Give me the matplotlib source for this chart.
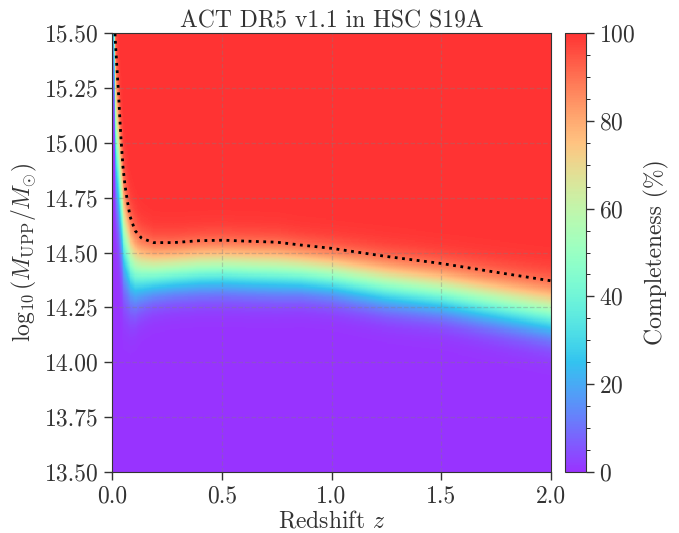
import numpy as np
import matplotlib
matplotlib.use('Agg')
import matplotlib.pyplot as plt
from matplotlib.ticker import MultipleLocator
from math import erf, sqrt

plt.rcParams['font.family'] = 'cmr10'
plt.rcParams['mathtext.fontset'] = 'cm'
plt.rcParams['axes.formatter.use_mathtext'] = True

# 90% completeness mass limit
z_nodes = [0.000, 0.005, 0.010, 0.014, 0.020, 0.025, 0.030, 0.035, 0.040, 0.050,
           0.060, 0.070, 0.082, 0.105, 0.135, 0.190, 0.280, 0.400, 0.510, 0.630,
           0.750, 0.860, 1.000, 1.250, 1.500, 1.750, 2.000]
m90_nodes = [16.40, 16.10, 15.85, 15.48, 15.38, 15.30, 15.22, 15.12, 15.03, 14.89,
             14.80, 14.735, 14.665, 14.60, 14.565, 14.545, 14.545, 14.554, 14.556, 14.551,
             14.547, 14.534, 14.519, 14.482, 14.450, 14.410, 14.371]
# width of the completeness transition (dex) at the same redshifts
sig_nodes = [0.30, 0.29, 0.28, 0.27, 0.26, 0.25, 0.24, 0.23, 0.22, 0.21,
             0.19, 0.175, 0.16, 0.14, 0.12, 0.105, 0.10, 0.10, 0.10, 0.10,
             0.10, 0.095, 0.095, 0.10, 0.10, 0.105, 0.11]

z_edges = np.arange(0, 2.0001, 0.004)
m_edges = np.arange(13.5, 15.5001, 0.005)
z_c = 0.5 * (z_edges[1:] + z_edges[:-1])
m_c = 0.5 * (m_edges[1:] + m_edges[:-1])

m90 = np.interp(z_c, z_nodes, m90_nodes)
sig = np.interp(z_c, z_nodes, sig_nodes)
Z, M = np.meshgrid(z_c, m_c)
X = (M - m90[None, :] + 1.2816 * sig[None, :]) / (sqrt(2) * sig[None, :])
comp = 100 * 0.5 * (1 + np.vectorize(erf)(X))

fig = plt.figure(figsize=(6.79, 5.33), dpi=100)
ax = fig.add_axes([112/679, 61/533, 439/679, 439/533])
cax = fig.add_axes([565/679, 61/533, 21/679, 439/533])

im = ax.imshow(comp, origin='lower', extent=[0, 2, 13.5, 15.5], aspect='auto',
               cmap='rainbow', vmin=0, vmax=100, alpha=0.8, interpolation='nearest')
ax.contour(z_c, m_c, comp, levels=[90], colors='k', linestyles=':', linewidths=2)

ax.set_xlim(0, 2)
ax.set_ylim(13.5, 15.5)
ax.set_xticks([0, 0.5, 1.0, 1.5, 2.0])
ax.set_yticks(np.arange(13.5, 15.51, 0.25))
ax.yaxis.set_major_formatter(matplotlib.ticker.FormatStrFormatter('%.2f'))
ax.xaxis.set_major_formatter(matplotlib.ticker.FormatStrFormatter('%.1f'))
ax.grid(True, ls='--', color='gray', alpha=0.35, lw=0.9)
ax.tick_params(labelsize=17, length=6, width=1, colors='#333333', labelcolor='#333333')
for s in ax.spines.values():
    s.set_color('#333333')
ax.set_xlabel('Redshift $z$', fontsize=17, color='#333333', labelpad=2)
ax.set_ylabel(r'$\log_{10}(M_{\rm UPP}/M_{\odot})$', fontsize=17, color='#333333', labelpad=4)
ax.set_title('ACT DR5 v1.1 in HSC S19A', fontsize=17, color='#333333', pad=3)

cb = fig.colorbar(im, cax=cax)
cb.set_ticks(range(0, 101, 20))
cb.ax.yaxis.set_minor_locator(MultipleLocator(5))
cb.ax.tick_params(labelsize=17, length=6, width=1, colors='#333333', labelcolor='#333333')
cb.ax.tick_params(which='minor', length=3)
cb.outline.set_edgecolor('#333333')
cb.set_label('Completeness (%)', fontsize=17, color='#333333', labelpad=6)

fig.savefig('out.png', dpi=100)
